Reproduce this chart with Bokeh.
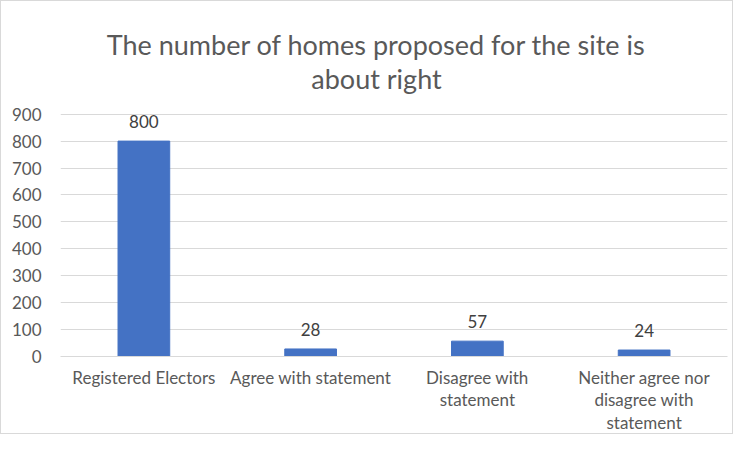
from bokeh.plotting import figure
from bokeh.models import ColumnDataSource, FactorRange, Range1d, FixedTicker
from bokeh.core.properties import value
from bokeh.embed import file_html
from bokeh.resources import INLINE

# ---- data ----
categories = ["Registered Electors", "Agree with statement", "Disagree with\nstatement",
              "Neither agree nor\ndisagree with\nstatement"]
counts = [800, 28, 57, 24]
y_ticks = [0, 100, 200, 300, 400, 500, 600, 700, 800, 900]
title_lines = ["The number of homes proposed for the site is", "about right"]

FONT = "Lato"

# ---- layout (pixels inside the figure) ----
W, H = 733, 434
FR_LEFT, FR_RIGHT, FR_BOTTOM = 59, 726, 356
PX_AXIS_TOP = 113                      # pixel row of the top gridline
px_per_unit = (FR_BOTTOM - PX_AXIS_TOP) / y_ticks[-1]
y_end = y_ticks[-1] + PX_AXIS_TOP / px_per_unit   # frame extends to the top of the figure


def py_to_data(py):
    return (FR_BOTTOM - py) / px_per_unit


def px_to_x(px):
    return (px - FR_LEFT) / ((FR_RIGHT - FR_LEFT) / len(categories))


source = ColumnDataSource(data=dict(cat=categories, val=counts, lab=[str(v) for v in counts]))
title_src = ColumnDataSource(data=dict(
    x=[px_to_x(375), px_to_x(375)],
    y=[py_to_data(43), py_to_data(77)],
    t=title_lines))

p = figure(width=W, height=H, x_range=FactorRange(*categories, range_padding=0),
           y_range=Range1d(0, y_end), output_backend="svg", toolbar_location=None,
           min_border_left=FR_LEFT, min_border_right=W - FR_RIGHT, min_border_top=0,
           min_border_bottom=H - FR_BOTTOM)
p.styles = {"border": "1px solid #d9d9d9"}
p.outline_line_color = None
p.background_fill_color = "white"
p.border_fill_color = "white"

p.vbar(x="cat", top="val", width=0.31, source=source, color="#4472c4")
p.text(x="cat", y="val", text="lab", source=source, text_align="center", text_baseline="bottom",
       y_offset=-13, text_font=value(FONT), text_font_size="17px", text_color="#404040")

p.text(x="x", y="y", text="t", source=title_src, text_align="center", text_baseline="alphabetic",
       text_font=value(FONT), text_font_size="27px", text_color="#595959")

# axes
p.yaxis.ticker = FixedTicker(ticks=y_ticks)
p.yaxis.axis_line_color = None
p.yaxis.major_tick_line_color = None
p.yaxis.minor_tick_line_color = None
p.yaxis.major_label_text_font = FONT
p.yaxis.major_label_text_font_size = "17px"
p.yaxis.major_label_text_color = "#595959"
p.yaxis.major_label_standoff = 13

p.xaxis.axis_line_color = "#d9d9d9"
p.xaxis.major_tick_line_color = None
p.xaxis.minor_tick_line_color = None
p.xaxis.major_label_text_font = FONT
p.xaxis.major_label_text_font_size = "17px"
p.xaxis.major_label_text_color = "#595959"
p.xaxis.major_label_text_line_height = 1.08
p.xaxis.major_label_standoff = 4

p.xgrid.grid_line_color = None
p.ygrid.grid_line_color = "#d9d9d9"

open("out.html", "w").write(file_html(p, INLINE))
